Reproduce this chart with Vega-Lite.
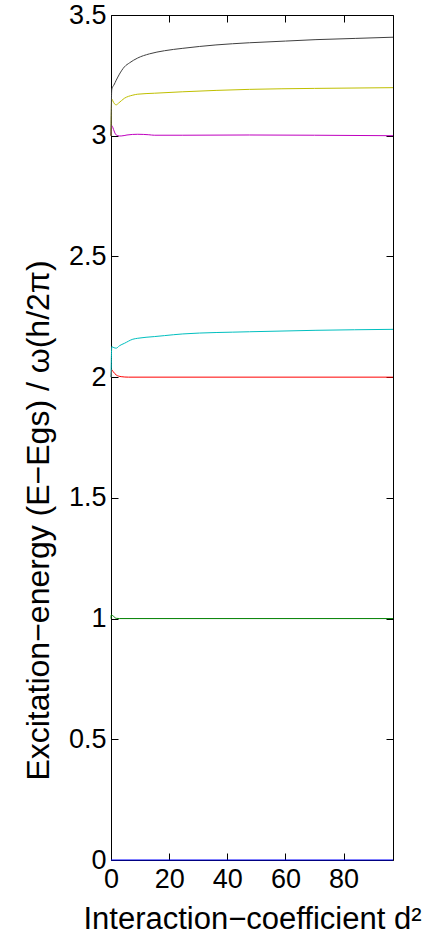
{
  "$schema": "https://vega.github.io/schema/vega-lite/v6.json",
  "autosize": "none",
  "width": 282,
  "height": 845,
  "padding": {"left": 111, "top": 15, "right": 40, "bottom": 83},
  "background": "white",
  "config": {
    "view": {"stroke": "black", "strokeWidth": 1},
    "font": "Liberation Sans",
    "axis": {
      "domain": false,
      "grid": false,
      "tickColor": "black",
      "tickSize": -7,
      "tickWidth": 1,
      "labelFlush": false,
      "labelOverlap": false,
      "labelFont": "Liberation Sans",
      "labelFontSize": 27,
      "labelColor": "black",
      "titleFont": "Liberation Sans",
      "titleFontSize": 32,
      "titleFontWeight": "normal",
      "titleColor": "black"
    }
  },
  "data": {
    "values": [
      {"level": "E0", "d2": 0, "E": 0},
      {"level": "E0", "d2": 97, "E": 0},

      {"level": "E1", "d2": 0, "E": 1.0},
      {"level": "E1", "d2": 0.1, "E": 1.015},
      {"level": "E1", "d2": 0.8, "E": 1.01},
      {"level": "E1", "d2": 1.8, "E": 1.001},
      {"level": "E1", "d2": 3, "E": 1.0},
      {"level": "E1", "d2": 97, "E": 1.0},

      {"level": "E2", "d2": 0, "E": 2.0},
      {"level": "E2", "d2": 0.27, "E": 2.03},
      {"level": "E2", "d2": 0.8, "E": 2.022},
      {"level": "E2", "d2": 1.8, "E": 2.009},
      {"level": "E2", "d2": 3.5, "E": 2.002},
      {"level": "E2", "d2": 6, "E": 2.0},
      {"level": "E2", "d2": 97, "E": 2.0},

      {"level": "E3", "d2": 0, "E": 2.0},
      {"level": "E3", "d2": 0.27, "E": 2.126},
      {"level": "E3", "d2": 1.0, "E": 2.122},
      {"level": "E3", "d2": 1.8, "E": 2.12},
      {"level": "E3", "d2": 2.9, "E": 2.13},
      {"level": "E3", "d2": 4.6, "E": 2.14},
      {"level": "E3", "d2": 7.5, "E": 2.157},
      {"level": "E3", "d2": 9.2, "E": 2.161},
      {"level": "E3", "d2": 14.9, "E": 2.168},
      {"level": "E3", "d2": 18.4, "E": 2.172},
      {"level": "E3", "d2": 24.7, "E": 2.179},
      {"level": "E3", "d2": 47.6, "E": 2.188},
      {"level": "E3", "d2": 70.5, "E": 2.194},
      {"level": "E3", "d2": 97, "E": 2.198},

      {"level": "E4", "d2": 0, "E": 3.0},
      {"level": "E4", "d2": 0.25, "E": 3.042},
      {"level": "E4", "d2": 0.6, "E": 3.035},
      {"level": "E4", "d2": 1.2, "E": 3.015},
      {"level": "E4", "d2": 1.8, "E": 3.003},
      {"level": "E4", "d2": 2.9, "E": 2.999},
      {"level": "E4", "d2": 3.5, "E": 2.999},
      {"level": "E4", "d2": 5.5, "E": 3.003},
      {"level": "E4", "d2": 9.2, "E": 3.006},
      {"level": "E4", "d2": 13, "E": 3.004},
      {"level": "E4", "d2": 14.9, "E": 3.002},
      {"level": "E4", "d2": 24.7, "E": 3.002},
      {"level": "E4", "d2": 47.6, "E": 3.003},
      {"level": "E4", "d2": 70, "E": 3.002},
      {"level": "E4", "d2": 97, "E": 3.0},

      {"level": "E5", "d2": 0, "E": 3.0},
      {"level": "E5", "d2": 0.25, "E": 3.152},
      {"level": "E5", "d2": 0.6, "E": 3.145},
      {"level": "E5", "d2": 1.2, "E": 3.132},
      {"level": "E5", "d2": 1.8, "E": 3.128},
      {"level": "E5", "d2": 2.6, "E": 3.135},
      {"level": "E5", "d2": 4.6, "E": 3.155},
      {"level": "E5", "d2": 7.5, "E": 3.168},
      {"level": "E5", "d2": 9.2, "E": 3.172},
      {"level": "E5", "d2": 14.9, "E": 3.176},
      {"level": "E5", "d2": 24.7, "E": 3.182},
      {"level": "E5", "d2": 47.6, "E": 3.192},
      {"level": "E5", "d2": 70, "E": 3.196},
      {"level": "E5", "d2": 97, "E": 3.199},

      {"level": "E6", "d2": 0, "E": 3.0},
      {"level": "E6", "d2": 0.25, "E": 3.19},
      {"level": "E6", "d2": 0.5, "E": 3.2},
      {"level": "E6", "d2": 1, "E": 3.21},
      {"level": "E6", "d2": 1.8, "E": 3.23},
      {"level": "E6", "d2": 2.9, "E": 3.255},
      {"level": "E6", "d2": 4.6, "E": 3.285},
      {"level": "E6", "d2": 6.4, "E": 3.302},
      {"level": "E6", "d2": 9.2, "E": 3.322},
      {"level": "E6", "d2": 13.2, "E": 3.339},
      {"level": "E6", "d2": 18.4, "E": 3.352},
      {"level": "E6", "d2": 24.7, "E": 3.362},
      {"level": "E6", "d2": 36.1, "E": 3.376},
      {"level": "E6", "d2": 47.6, "E": 3.385},
      {"level": "E6", "d2": 60, "E": 3.392},
      {"level": "E6", "d2": 70.5, "E": 3.398},
      {"level": "E6", "d2": 84, "E": 3.403},
      {"level": "E6", "d2": 97, "E": 3.408}
    ]
  },
  "resolve": {"axis": {"x": "independent", "y": "independent"}},
  "layer": [
    {
      "mark": {"type": "line", "strokeWidth": 1, "interpolate": "monotone"},
      "encoding": {
        "x": {
          "field": "d2", "type": "quantitative",
          "scale": {"domain": [0, 97], "nice": false, "zero": false},
          "axis": {
            "orient": "bottom",
            "values": [0, 20, 40, 60, 80],
            "format": "d",
            "labelPadding": 13,
            "title": "Interaction−coefficient d²",
            "titleFontSize": 31,
            "titleBaseline": "alphabetic",
            "titleY": 68
          }
        },
        "y": {
          "field": "E", "type": "quantitative",
          "scale": {"domain": [0, 3.5], "nice": false},
          "axis": {
            "orient": "left",
            "values": [0, 0.5, 1, 1.5, 2, 2.5, 3, 3.5],
            "format": "~g",
            "labelPadding": 12,
            "title": "Excitation−energy (E−Egs) / ω(h/2π)",
            "titleBaseline": "alphabetic",
            "titleX": -63,
            "titleY": 505
          }
        },
        "color": {
          "field": "level", "type": "nominal",
          "scale": {
            "domain": ["E0", "E1", "E2", "E3", "E4", "E5", "E6"],
            "range": ["#0000ff", "#008000", "#ff0000", "#00bfbf", "#bf00bf", "#bfbf00", "#404040"]
          },
          "legend": null
        },
        "order": {"field": "d2", "type": "quantitative"}
      }
    },
    {
      "mark": {"type": "point", "opacity": 0},
      "encoding": {
        "x": {
          "field": "d2", "type": "quantitative",
          "axis": {"orient": "top", "values": [0, 20, 40, 60, 80], "labels": false, "title": null}
        },
        "y": {
          "field": "E", "type": "quantitative",
          "axis": {"orient": "right", "values": [0, 0.5, 1, 1.5, 2, 2.5, 3, 3.5], "labels": false, "title": null}
        }
      }
    }
  ]
}
